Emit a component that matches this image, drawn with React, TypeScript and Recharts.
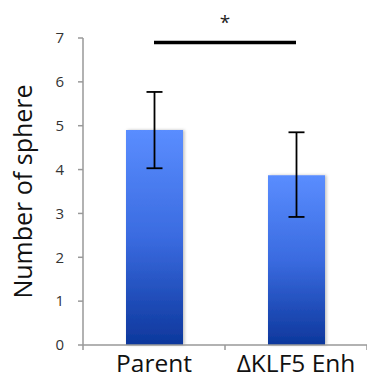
import React from 'react';
import {
  BarChart,
  Bar,
  XAxis,
  YAxis,
  ErrorBar,
  ReferenceLine
} from 'recharts';

const categories = ['Parent', 'ΔKLF5 Enh'];
const means = [4.9, 3.87];
const errLow = [0.87, 0.95];
const errHigh = [0.87, 0.98];
const yTicks = [0, 1, 2, 3, 4, 5, 6, 7];
const sigLevel = 6.9;

const data = categories.map((name, i) => ({
  name,
  value: means[i],
  err: [errLow[i], errHigh[i]]
}));

const font = '"Open Sans", "Noto Sans", sans-serif';
const X_TICK_SIZE = 6;
const X_TICK_MARGIN = 4;

// category tick: label at centre, small tick marks at band edges
function CategoryTick(props: any) {
  const { x, y, payload, index, visibleTicksCount } = props;
  const half = payload?.offset ?? 0;
  const axisY = y - X_TICK_SIZE - X_TICK_MARGIN;
  const last = index === visibleTicksCount - 1;
  return (
    <g>
      <line x1={x - half} x2={x - half} y1={axisY} y2={axisY + 5} stroke="#999" strokeWidth={1.5} />
      {last && <line x1={x + half} x2={x + half} y1={axisY} y2={axisY + 5} stroke="#999" strokeWidth={1.5} />}
      <text x={x} y={y} dy="0.71em" textAnchor="middle" fontSize={24.5} fill="#111" fontFamily={font}>
        {payload.value}
      </text>
    </g>
  );
}

export default function App() {
  return (
    <div style={{ position: 'absolute', left: 0, top: 0, width: 367, height: 379, background: '#fff' }}>
      <BarChart width={367} height={379} data={data} margin={{ top: 38, right: 0, left: 0, bottom: 0 }}>
        <defs>
          <linearGradient id="barGrad" x1="0" y1="0" x2="0" y2="1">
            <stop offset="0%" stopColor="#5A8DFF" />
            <stop offset="50%" stopColor="#3A6BE0" />
            <stop offset="100%" stopColor="#0D379C" />
          </linearGradient>
          <filter id="barShadow" x="-20%" y="-5%" width="140%" height="110%">
            <feDropShadow dx="1.5" dy="0" stdDeviation="1.5" floodColor="#000" floodOpacity="0.25" />
          </filter>
        </defs>
        <XAxis
          dataKey="name"
          height={34}
          axisLine={{ stroke: '#999', strokeWidth: 1.5 }}
          tickLine={false}
          tickSize={X_TICK_SIZE}
          tickMargin={X_TICK_MARGIN}
          interval={0}
          tick={<CategoryTick />}
        />
        <YAxis
          domain={[0, 7]}
          ticks={yTicks}
          width={83}
          axisLine={{ stroke: '#999', strokeWidth: 1.5 }}
          tickLine={{ stroke: '#999', strokeWidth: 1.5 }}
          tickSize={5}
          tickMargin={14}
          tick={{ fontSize: 15, fill: '#333', fontFamily: font }}
          label={{
            value: 'Number of sphere',
            angle: -90,
            position: 'center',
            dx: -18,
            style: { fontSize: 25, fill: '#111', fontFamily: font, textAnchor: 'middle' }
          }}
        />
        <Bar
          dataKey="value"
          fill="url(#barGrad)"
          barSize={57}
          filter="url(#barShadow)"
          isAnimationActive={false}
        >
          <ErrorBar dataKey="err" width={8} stroke="#000" strokeWidth={1.8} isAnimationActive={false} />
        </Bar>
        <ReferenceLine
          segment={[{ x: categories[0], y: sigLevel }, { x: categories[1], y: sigLevel }]}
          stroke="#000"
          strokeWidth={3.5}
          ifOverflow="visible"
          label={{ value: '*', position: 'top', offset: 13, style: { fontSize: 19, fill: '#222', fontFamily: font } }}
        />
      </BarChart>
    </div>
  );
}
